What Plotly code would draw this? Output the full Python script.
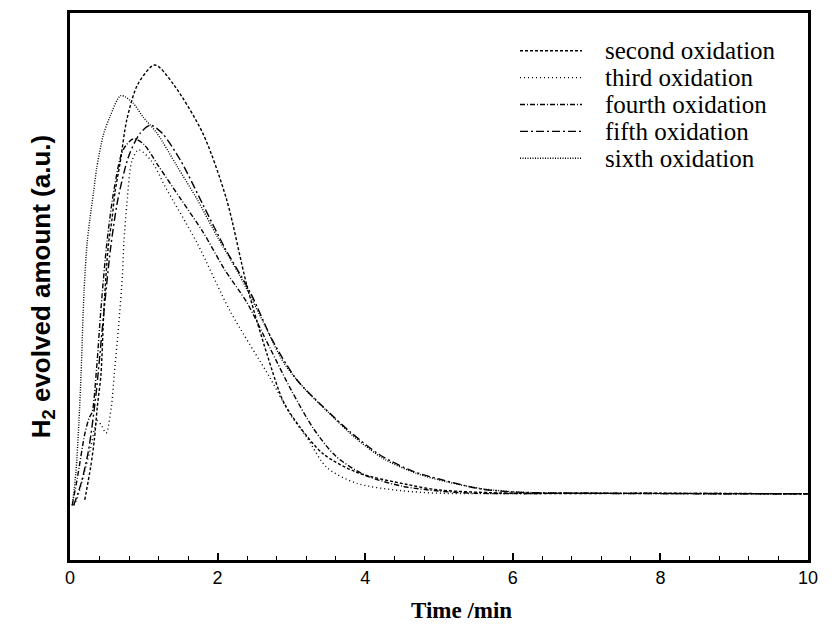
import plotly.graph_objects as go

# ---- data ----
t_second = [0.2, 0.28, 0.33, 0.37, 0.42, 0.46, 0.52, 0.57, 0.61, 0.68, 0.77, 0.92, 1.15, 1.4, 1.8, 2.12, 2.4, 2.67, 2.89, 3.12, 3.43, 3.89, 4.57, 5.0, 6.0, 8.0, 10.0]
v_second = [0.11, 0.17, 0.22, 0.28, 0.34, 0.46, 0.576, 0.624, 0.673, 0.727, 0.805, 0.87, 0.905, 0.87, 0.78, 0.66, 0.50, 0.376, 0.29, 0.242, 0.194, 0.16, 0.138, 0.128, 0.122, 0.122, 0.121]

t_third = [0.05, 0.09, 0.19, 0.28, 0.37, 0.43, 0.49, 0.56, 0.60, 0.66, 0.71, 0.73, 0.77, 0.84, 0.93, 1.1, 1.3, 1.72, 2.17, 2.71, 2.98, 3.21, 3.48, 3.89, 4.47, 5.01, 7.0, 10.0]
v_third = [0.10, 0.11, 0.158, 0.205, 0.255, 0.245, 0.232, 0.28, 0.34, 0.43, 0.52, 0.58, 0.65, 0.73, 0.75, 0.73, 0.68, 0.58, 0.455, 0.333, 0.267, 0.224, 0.169, 0.14, 0.127, 0.122, 0.122, 0.121]

t_fourth = [0.03, 0.1, 0.2, 0.26, 0.3, 0.36, 0.42, 0.5, 0.6, 0.72, 0.86, 1.0, 1.2, 1.5, 1.8, 2.1, 2.4, 2.7, 3.0, 3.3, 3.6, 4.0, 4.5, 5.0, 5.5, 7.0, 10.0]
v_fourth = [0.10, 0.15, 0.23, 0.26, 0.27, 0.35, 0.46, 0.58, 0.68, 0.75, 0.77, 0.76, 0.72, 0.66, 0.60, 0.53, 0.47, 0.39, 0.31, 0.24, 0.19, 0.155, 0.135, 0.126, 0.122, 0.122, 0.121]

t_fifth = [0.05, 0.15, 0.25, 0.35, 0.45, 0.55, 0.65, 0.8, 0.95, 1.09, 1.25, 1.5, 1.8, 2.1, 2.44, 2.75, 3.07, 3.43, 3.79, 4.2, 4.65, 5.0, 5.56, 6.06, 7.0, 10.0]
v_fifth = [0.10, 0.14, 0.20, 0.30, 0.44, 0.57, 0.66, 0.74, 0.78, 0.795, 0.78, 0.73, 0.65, 0.57, 0.49, 0.40, 0.33, 0.28, 0.235, 0.192, 0.162, 0.148, 0.13, 0.124, 0.122, 0.121]

t_sixth = [0.03, 0.08, 0.12, 0.15, 0.19, 0.23, 0.27, 0.32, 0.36, 0.45, 0.54, 0.69, 0.85, 0.99, 1.18, 1.45, 1.72, 2.0, 2.3, 2.6, 2.9, 3.2, 3.5, 3.85, 4.25, 4.7, 5.1, 5.6, 6.1, 7.0, 10.0]
v_sixth = [0.10, 0.16, 0.25, 0.34, 0.49, 0.576, 0.624, 0.673, 0.715, 0.776, 0.81, 0.849, 0.836, 0.81, 0.78, 0.72, 0.66, 0.59, 0.52, 0.44, 0.36, 0.31, 0.27, 0.225, 0.185, 0.158, 0.143, 0.13, 0.124, 0.122, 0.121]

names = ["second oxidation", "third oxidation", "fourth oxidation", "fifth oxidation", "sixth oxidation"]
series = [(t_second, v_second), (t_third, v_third), (t_fourth, v_fourth), (t_fifth, v_fifth), (t_sixth, v_sixth)]
dashes = ["3px,2px", "1px,3px", "5px,2px,1px,2px", "8px,3px,2px,3px", "1px,1.5px"]

x_ticks = [0, 2, 4, 6, 8, 10]

fig = go.Figure()
for (t, v), name, d in zip(series, names, dashes):
    fig.add_trace(go.Scatter(x=t, y=v, mode="lines", name=name, showlegend=False,
                             line=dict(color="black", width=1.4, dash=d, shape="spline", smoothing=0.8)))

# hand-placed legend (text + line samples) in paper coordinates
PLOT_H = 550.0
PLOT_W = 738.0
row_top = 48.0
row_gap = 27.0
for i, (name, d) in enumerate(zip(names, dashes)):
    yc = 1 - (row_top - 10 + i * row_gap) / PLOT_H
    fig.add_shape(type="line", xref="paper", yref="paper",
                  x0=(520 - 70) / PLOT_W, x1=(582 - 70) / PLOT_W, y0=yc, y1=yc,
                  line=dict(color="black", width=1.4, dash=d))
    fig.add_annotation(text=name, xref="paper", yref="paper",
                       x=(603 - 70) / PLOT_W, y=yc, xanchor="left", yanchor="middle",
                       showarrow=False,
                       font=dict(family="Liberation Serif", size=25, color="black"))

# x-axis title
fig.add_annotation(text="<b>Time /min</b>", xref="paper", yref="paper",
                   x=(461 - 70) / PLOT_W, y=(560 - 611) / PLOT_H,
                   xanchor="center", yanchor="middle", showarrow=False,
                   font=dict(family="Liberation Serif", size=23, color="black"))

fig.update_layout(
    width=832, height=624,
    margin=dict(l=62, r=32, t=2, b=72),
    paper_bgcolor="white", plot_bgcolor="white",
    showlegend=False,
    xaxis=dict(range=[0, 10], tickvals=x_ticks, ticktext=[str(v) for v in x_ticks],
               ticks="inside", ticklen=7, tickwidth=1.5, tickcolor="black",
               minor=dict(dtick=0.4, ticks="inside", ticklen=4, tickwidth=1.2, tickcolor="black"),
               showline=True, linewidth=2.5, linecolor="black", mirror=True,
               showgrid=False, zeroline=False,
               tickfont=dict(family="Liberation Sans", size=18, color="black")),
    yaxis=dict(range=[0, 1], showticklabels=False, ticks="",
               showline=True, linewidth=2.5, linecolor="black", mirror=True,
               showgrid=False, zeroline=False,
               title=dict(text="<b>H<sub>2</sub> evolved amount (a.u.)</b>", standoff=10,
                          font=dict(family="Liberation Sans", size=26, color="black"))),
)

fig.write_html("out.html")
